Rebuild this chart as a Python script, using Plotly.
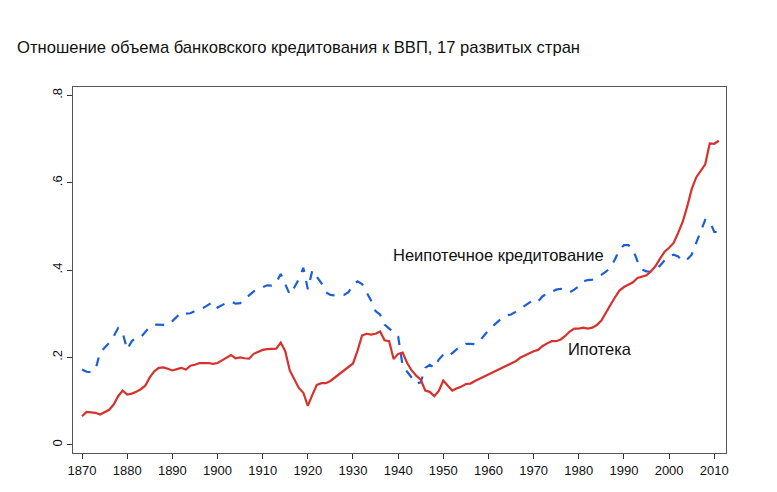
import plotly.graph_objects as go

# Годы и значения (доля от ВВП)
years = list(range(1870, 2012))

mortgage = [
    0.065, 0.075, 0.074, 0.073, 0.069, 0.074, 0.080, 0.092, 0.111, 0.124,  # 1870-1879
    0.115, 0.117, 0.121, 0.127, 0.135, 0.154, 0.168, 0.176, 0.177, 0.174,  # 1880-1889
    0.170, 0.173, 0.176, 0.172, 0.181, 0.183, 0.187, 0.187, 0.187, 0.185,  # 1890-1899
    0.187, 0.193, 0.200, 0.205, 0.198, 0.200, 0.198, 0.197, 0.208, 0.213,  # 1900-1909
    0.217, 0.219, 0.220, 0.220, 0.234, 0.214, 0.170, 0.151, 0.130, 0.119,  # 1910-1919
    0.089, 0.114, 0.137, 0.141, 0.141, 0.146, 0.154, 0.162, 0.172, 0.178,  # 1920-1929
    0.186, 0.215, 0.250, 0.254, 0.252, 0.254, 0.259, 0.239, 0.237, 0.196,  # 1930-1939
    0.208, 0.211, 0.187, 0.170, 0.158, 0.149, 0.124, 0.121, 0.111, 0.123,  # 1940-1949
    0.147, 0.135, 0.124, 0.129, 0.133, 0.139, 0.140, 0.146, 0.151, 0.156,  # 1950-1959
    0.160, 0.165, 0.170, 0.175, 0.181, 0.185, 0.191, 0.199, 0.204, 0.210,  # 1960-1969
    0.214, 0.217, 0.226, 0.232, 0.237, 0.237, 0.241, 0.249, 0.259, 0.266,  # 1970-1979
    0.266, 0.268, 0.266, 0.268, 0.274, 0.284, 0.303, 0.320, 0.337, 0.353,  # 1980-1989
    0.361, 0.366, 0.372, 0.382, 0.385, 0.388, 0.397, 0.409, 0.426, 0.442,  # 1990-1999
    0.451, 0.462, 0.485, 0.510, 0.545, 0.585, 0.612, 0.628, 0.642, 0.690,  # 2000-2009
    0.689, 0.696,                                                          # 2010-2011
]

non_mortgage = [
    0.172, 0.167, 0.166, 0.173, 0.211, 0.221, 0.233, 0.248, 0.267, 0.256,  # 1870-1879
    0.218, 0.237, 0.245, 0.246, 0.259, 0.270, 0.275, 0.275, 0.275, 0.274,  # 1880-1889
    0.283, 0.293, 0.303, 0.300, 0.301, 0.306, 0.311, 0.314, 0.320, 0.327,  # 1890-1899
    0.314, 0.319, 0.325, 0.328, 0.323, 0.324, 0.333, 0.342, 0.351, 0.356,  # 1900-1909
    0.360, 0.365, 0.364, 0.371, 0.391, 0.367, 0.344, 0.360, 0.379, 0.405,  # 1910-1919
    0.356, 0.399, 0.383, 0.370, 0.349, 0.343, 0.342, 0.342, 0.343, 0.349,  # 1920-1929
    0.365, 0.374, 0.368, 0.349, 0.330, 0.306, 0.298, 0.275, 0.265, 0.257,  # 1930-1939
    0.248, 0.180, 0.167, 0.153, 0.140, 0.143, 0.176, 0.183, 0.176, 0.195,  # 1940-1949
    0.206, 0.201, 0.210, 0.219, 0.225, 0.231, 0.231, 0.230, 0.237, 0.250,  # 1950-1959
    0.262, 0.272, 0.282, 0.290, 0.296, 0.298, 0.304, 0.311, 0.318, 0.326,  # 1960-1969
    0.332, 0.328, 0.340, 0.346, 0.351, 0.355, 0.357, 0.355, 0.349, 0.355,  # 1970-1979
    0.363, 0.374, 0.377, 0.378, 0.384, 0.389, 0.396, 0.405, 0.424, 0.447,  # 1980-1989
    0.457, 0.457, 0.447, 0.420, 0.401, 0.397, 0.396, 0.401, 0.410, 0.422,  # 1990-1999
    0.431, 0.435, 0.431, 0.420, 0.424, 0.435, 0.462, 0.489, 0.515, 0.512,  # 2000-2009
    0.487, 0.487,                                                          # 2010-2011
]

x_ticks = list(range(1870, 2011, 10))
y_ticks = [0, 0.2, 0.4, 0.6, 0.8]
y_labels = ["0", ".2", ".4", ".6", ".8"]

title_text = "Отношение объема банковского кредитования к ВВП, 17 развитых стран"
label_non_mortgage = "Неипотечное кредитование"
label_mortgage = "Ипотека"

font_family = "Liberation Sans, Arial, sans-serif"

fig = go.Figure()

fig.add_trace(go.Scatter(
    x=years, y=non_mortgage, mode="lines",
    line=dict(color="#1a5fd9", width=2.2, dash="dash"),
    showlegend=False,
))
fig.add_trace(go.Scatter(
    x=years, y=mortgage, mode="lines",
    line=dict(color="#d8312c", width=2.2),
    showlegend=False,
))

# подписи рядов прямо на графике
fig.add_annotation(x=1938.4, y=0.435, text=label_non_mortgage, showarrow=False,
                   xanchor="left", yanchor="middle",
                   font=dict(size=16.5, color="#111111"))
fig.add_annotation(x=1977.2, y=0.220, text=label_mortgage, showarrow=False,
                   xanchor="left", yanchor="middle",
                   font=dict(size=16.5, color="#111111"))

# страница добавляет отступ 8px, поэтому поля смещены
fig.update_layout(
    width=777, height=492,
    paper_bgcolor="white", plot_bgcolor="white",
    font=dict(family=font_family, color="#111111"),
    margin=dict(l=65, r=59, t=79, b=47),
    title=dict(text=title_text, x=0.0116, xanchor="left", y=0.921, yanchor="middle",
               font=dict(size=16.6, color="#111111")),
    xaxis=dict(
        range=[1868.0, 2012.6],
        tickvals=x_ticks,
        ticks="outside", ticklen=5, tickcolor="#333333",
        showline=True, linecolor="#555555", linewidth=1, mirror=True,
        showgrid=False, zeroline=False, automargin=False,
        tickfont=dict(size=13, color="#111111"),
    ),
    yaxis=dict(
        range=[-0.019, 0.819],
        tickvals=y_ticks, ticktext=y_labels,
        tickangle=-90,
        ticks="outside", ticklen=5, tickcolor="#333333",
        showline=True, linecolor="#555555", linewidth=1, mirror=True,
        showgrid=False, zeroline=False, automargin=False,
        tickfont=dict(size=13, color="#111111"),
    ),
)

fig.write_html("out.html")
